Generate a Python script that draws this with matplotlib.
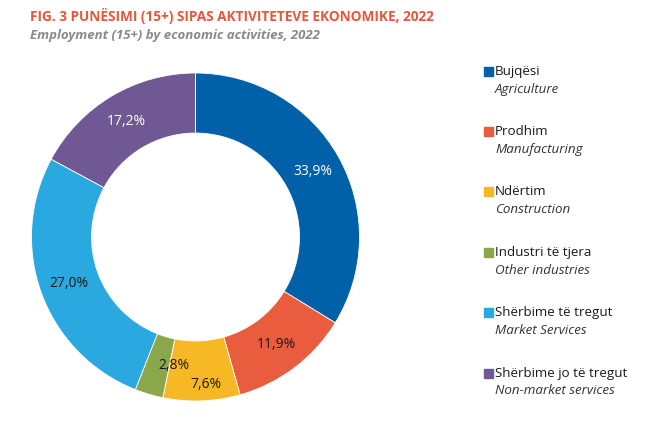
import matplotlib
matplotlib.use("Agg")
import matplotlib.pyplot as plt
from matplotlib.patches import Rectangle
import numpy as np

categories_sq = ["Bujqësi", "Prodhim", "Ndërtim", "Industri të tjera",
                 "Shërbime të tregut", "Shërbime jo të tregut"]
categories_en = ["Agriculture", "Manufacturing", "Construction", "Other industries",
                 "Market Services", "Non-market services"]
values = [33.9, 11.9, 7.6, 2.8, 27.0, 17.2]
colors = ["#0061A9", "#E95C3E", "#F6B824", "#8AA74B", "#2AA8E0", "#6F5893"]
label_colors = ["white", "#1a1a1a", "#1a1a1a", "#1a1a1a", "#1a1a1a", "white"]

title = "FIG. 3 PUNËSIMI (15+) SIPAS AKTIVITETEVE EKONOMIKE, 2022"
subtitle = "Employment (15+) by economic activities, 2022"

FONT = ["Open Sans", "DejaVu Sans"]
plt.rcParams["font.family"] = FONT

W, H = 665, 429
fig = plt.figure(figsize=(W / 100, H / 100), dpi=100)

cx, cy, R = 195.5, 237, 164
ax = fig.add_axes([(cx - R) / W, (H - cy - R) / H, 2 * R / W, 2 * R / H])
wedges, texts = ax.pie(values, colors=colors, startangle=90, counterclock=False,
                       radius=1.0, wedgeprops=dict(width=0.366, edgecolor="white", linewidth=0.6))
ax.set_xlim(-1, 1)
ax.set_ylim(-1, 1)
ax.set_aspect("equal")
ax.axis("off")

rmid = 0.82
# small-slice label nudges (in axes data units)
nudges = {2: (0.03, -0.08), 3: (0.10, 0.0)}
for i, w in enumerate(wedges):
    ang = np.deg2rad((w.theta1 + w.theta2) / 2)
    x, y = rmid * np.cos(ang), rmid * np.sin(ang)
    dx, dy = nudges.get(i, (0, 0))
    ax.text(x + dx, y + dy, f"{values[i]:.1f}%".replace(".", ","), ha="center", va="center",
            fontsize=10, color=label_colors[i])

fig.text(30 / W, 1 - 16 / H, title, fontsize=9.8, fontweight="bold", color="#E8563B",
         ha="left", va="center")
fig.text(30 / W, 1 - 36 / H, subtitle, fontsize=9.5, fontweight="bold", style="italic",
         color="#8A8A8A", ha="left", va="center")

y0, dy = 71, 60.4
for i in range(len(categories_sq)):
    yy = y0 + i * dy
    fig.patches.append(Rectangle((484 / W, 1 - (yy + 4.5) / H), 9 / W, 9 / H,
                                 transform=fig.transFigure, color=colors[i], figure=fig))
    fig.text(495 / W, 1 - yy / H, categories_sq[i], fontsize=9.6, color="#1a1a1a",
             ha="left", va="center")
    fig.text(495 / W, 1 - (yy + 18) / H, categories_en[i], fontsize=9.6, style="italic",
             color="#333333", ha="left", va="center")

fig.savefig("out.png", dpi=100, facecolor="white")
